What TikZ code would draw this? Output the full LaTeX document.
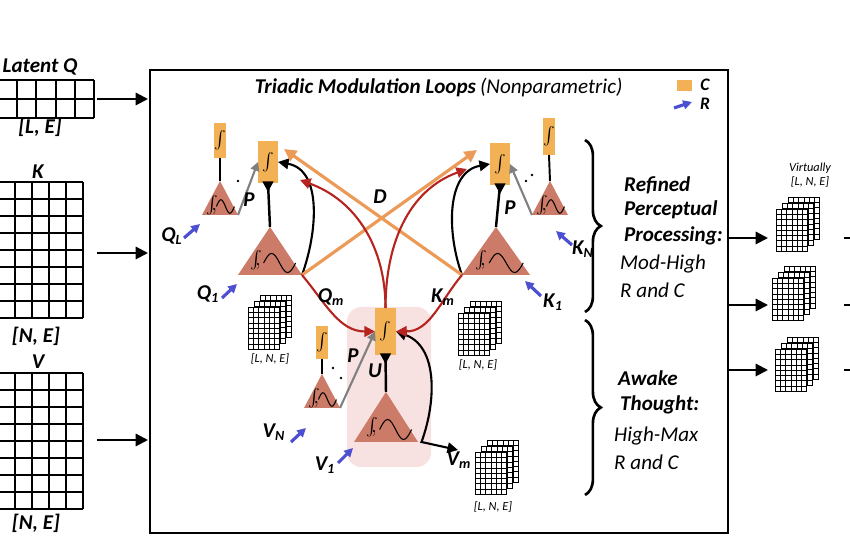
\documentclass[tikz,border=0pt]{standalone}
\usepackage{fontspec}
\setmainfont{Carlito}
\usetikzlibrary{arrows.meta,decorations.pathreplacing}
\definecolor{tri}{HTML}{CC7B68}
\definecolor{cbar}{HTML}{F2B155}
\definecolor{dorange}{HTML}{EC9A58}
\definecolor{dred}{HTML}{B5241E}
\definecolor{rblue}{HTML}{4B4FD0}
\definecolor{pinkbg}{HTML}{F8E1E1}
\tikzset{
  tri/.style={fill=tri},
  cbar/.style={fill=cbar},
  rarr/.style={-{Triangle[length=5pt,width=5pt]}, rblue, line width=1.8pt},
  darr/.style={-{Triangle[length=7pt,width=7pt]}, dorange, line width=1.8pt},
  redarr/.style={-{Triangle[length=6pt,width=6pt]}, dred, line width=1.2pt},
  barr/.style={-{Triangle[length=6pt,width=6pt]}, black, line width=1.2pt},
  garr/.style={-{Triangle[length=5pt,width=5pt]}, gray, line width=1.2pt},
  inarr/.style={-{Triangle[length=7pt,width=7pt]}, black, line width=1.2pt},
  lab/.style={font=\bfseries\itshape\large},
  small/.style={font=\itshape\scriptsize},
}
\newcommand\sub[1]{\textsubscript{\bfseries\itshape #1}}
% triangle: name, centre x, base y, half width, height
\newcommand\tri[5]{
  \path[tri] ({#2-#4},#3) coordinate (#1-l) -- (#2,{#3-#5}) coordinate (#1-t)
    -- ({#2+#4},#3) coordinate (#1-r) -- cycle;
  \node[font=\large] at ({#2-0.45*#4},{#3-0.3*#5}) {$\int\!\!,$};
  \draw[line width=0.6pt] ({#2-0.2*#4},{#3-0.25*#5}) sin ++({0.25*#4},{-0.2*#5})
    cos ++({0.25*#4},{0.2*#5}) sin ++({0.25*#4},{0.2*#5}) cos ++({0.25*#4},{-0.2*#5});
}
% orange bar: name, x, y, width, height
\newcommand\cbar[5]{
  \path[cbar] (#2,#3) rectangle ({#2+#4},{#3+#5});
  \coordinate (#1) at ({#2+0.5*#4},{#3+0.5*#5});
  \coordinate (#1-n) at ({#2+0.5*#4},#3);
  \coordinate (#1-s) at ({#2+0.5*#4},{#3+#5});
  \coordinate (#1-w) at (#2,{#3+0.5*#5});
  \coordinate (#1-e) at ({#2+#4},{#3+0.5*#5});
  \node[font=\large] at (#1) {$\int$};
}
% grid: x, y, cols, rows, cell, line width
\newcommand\mgrid[6]{
  \fill[white] (#1,#2) rectangle ({#1+#3*#5},{#2+#4*#5});
  \foreach \i in {0,...,#3} \draw[line width=#6] ({#1+\i*#5},#2) -- ({#1+\i*#5},{#2+#4*#5});
  \foreach \j in {0,...,#4} \draw[line width=#6] (#1,{#2+\j*#5}) -- ({#1+#3*#5},{#2+\j*#5});
}
% stack of three grids: x, y (front grid top left)
\newcommand\gstack[2]{
  \mgrid{#1+12}{#2-12}{6}{8}{5.3}{0.35pt}
  \mgrid{#1+6}{#2-6}{6}{8}{5.3}{0.35pt}
  \mgrid{#1}{#2}{6}{8}{5.3}{0.35pt}
}
\begin{document}
\begin{tikzpicture}[x=0.02cm, y=-0.02cm]
\useasboundingbox (0,0) rectangle (850,560);
% inputs
\mgrid{-2}{80}{5}{2}{19.2}{1.1pt}
\mgrid{-2}{182}{5}{8}{17}{1.1pt}
\mgrid{-2}{373}{5}{8}{17}{1.1pt}
\node[lab] at (40,67) {Latent Q};
\node[lab] at (40,127) {[L, E]};
\node[lab] at (38,172) {K};
\node[lab] at (36,336) {[N, E]};
\node[lab] at (38,362) {V};
\node[lab] at (36,523) {[N, E]};
\coordinate (q-out) at (97,99);
\coordinate (k-out) at (97,253);
\coordinate (v-out) at (97,440);
\coordinate (q-in) at (148,99);
\coordinate (k-in) at (148,253);
\coordinate (v-in) at (148,440);
\draw[inarr] (q-out) -- (q-in);
\draw[inarr] (k-out) -- (k-in);
\draw[inarr] (v-out) -- (v-in);
% frame
\draw[line width=1.1pt] (150,70) rectangle (728,533);
\node[font=\bfseries\itshape\large, anchor=east, inner xsep=1pt] at (478,88) {Triadic Modulation Loops};
\node[font=\itshape\large, anchor=west, inner xsep=1pt] at (478,88) {(Nonparametric)};
\fill[cbar] (677,80) rectangle (692,91);
\node[font=\bfseries\itshape, inner sep=1pt] at (705,85) {C};
\draw[rarr] (674,108) -- (692,102);
\node[font=\bfseries\itshape, inner sep=1pt] at (705,104) {R};
% background of the centre loop
\fill[pinkbg, rounded corners=8pt] (347,307) rectangle (431,467);
% left loop
\cbar{cl}{258}{141}{20}{42}
\cbar{cls}{214}{123}{12}{35}
\tri{tl}{270}{275}{32}{48}
\tri{tls}{220}{215}{18}{34}
\draw[line width=1.1pt] (cls-s) -- (tls-t);
\fill (238,181) circle (1.4) (247,191) circle (1.4);
% right loop
\cbar{cr}{490}{143}{20}{42}
\cbar{crs}{543}{118}{12}{37}
\tri{tr}{496}{275}{34}{48}
\tri{trs}{550}{215}{18}{34}
\draw[line width=1.1pt] (crs-s) -- (trs-t);
\fill (526,181) circle (1.4) (532,175) circle (1.4);
% centre loop
\cbar{cc}{375}{308}{21}{47}
\cbar{ccs}{316}{326}{12}{33}
\tri{tc}{386}{442}{32}{50}
\tri{tcs}{322}{408}{18}{34}
\draw[line width=1.1pt] (ccs-s) -- (tcs-t);
\fill (333,368) circle (1.4) (341,378) circle (1.4);
% bars down to triangles
\draw[line width=1.4pt] (cl-s) -- (tl-t);
\draw[line width=1.4pt] (cr-s) -- (tr-t);
\draw[line width=1.4pt] (cc-s) -- (tc-t);
\draw[barr, line width=1.4pt] (cl-s) -- ++(0,9);
\draw[barr, line width=1.4pt] (cr-s) -- ++(0,9);
\draw[barr, line width=1.4pt] (cc-s) -- ++(0,9);
% loops
\draw[barr] (tl-r) to[out=70, in=-10] (cl-e);
\draw[barr] (tr-l) to[out=110, in=190] (cr-w);
\draw[barr, {Triangle[length=6pt,width=6pt]}-{Triangle[length=6pt,width=6pt]}] (cc-e) to[out=-20, in=70] ([xshift=2]tc-r) -- (458,450) coordinate (vm);
\draw[garr] (tls-r) -- (cl-w);
\draw[garr] (trs-l) -- (cr-e);
\draw[garr] (tcs-r) -- (cc-w);
% D
\draw[darr] (tl-r) -- (477,150);
\draw[darr] (tr-l) -- (284,149);
% red modulation
\draw[redarr] (cc-n) to[out=90, in=-20] (300,180);
\draw[redarr] (cc-n) to[out=90, in=200] (467,169);
\draw[redarr] (tl-r) to[out=-50, in=180] (cc-w);
\draw[redarr] (tr-l) to[out=-130, in=0] (cc-e);
% R inputs
\draw[rarr] (184,238) -- (200,224);
\draw[rarr] (222,298) -- (237,284);
\draw[rarr] (572,245) -- (556,231);
\draw[rarr] (541,296) -- (525,281);
\draw[rarr] (291,442) -- (306,428);
\draw[rarr] (338,463) -- (353,448);
% labels
\node[lab] at (172,236) {Q\sub{L}};
\node[lab] at (208,294) {Q\sub{1}};
\node[lab] at (249,200) {P};
\node[lab] at (510,208) {P};
\node[lab] at (380,197) {D};
\node[lab] at (331,297) {Q\sub{m}};
\node[lab] at (443,297) {K\sub{m}};
\node[lab] at (583,249) {K\sub{N}};
\node[lab] at (553,302) {K\sub{1}};
\node[lab] at (353,356) {P};
\node[lab] at (375,371) {U};
\node[lab] at (274,432) {V\sub{N}};
\node[lab] at (325,465) {V\sub{1}};
\node[lab] at (459,460) {V\sub{m}};
% value tensors
\gstack{248}{307}
\node[small] at (270,359) {[L, N, E]};
\gstack{458}{313}
\node[small] at (478,365) {[L, N, E]};
\gstack{475}{452}
\node[small] at (493,507) {[L, N, E]};
% regimes
\draw[line width=1.5pt, decorate, decoration={brace, amplitude=9pt}] (585,140) -- (585,312);
\draw[line width=1.5pt, decorate, decoration={brace, amplitude=9pt}] (585,320) -- (585,495);
\node[lab, anchor=west] at (618,185) {Refined};
\node[lab, anchor=west] at (618,210) {Perceptual};
\node[lab, anchor=west] at (618,236) {Processing:};
\node[font=\itshape\large, anchor=west] at (614,264) {Mod-High};
\node[font=\itshape\large, anchor=west] at (614,290) {R and C};
\node[lab, anchor=west] at (612,378) {Awake};
\node[lab, anchor=west] at (614,405) {Thought:};
\node[font=\itshape\large, anchor=west] at (608,436) {High-Max};
\node[font=\itshape\large, anchor=west] at (608,462) {R and C};
% outputs
\node[small] at (810,168) {Virtually};
\node[small] at (810,182) {[L, N, E]};
\gstack{776}{209}
\gstack{772}{278}
\gstack{775}{349}
\coordinate (o1) at (728,238);
\coordinate (o2) at (728,305);
\coordinate (o3) at (728,370);
\draw[inarr] (o1) -- (768,238);
\draw[inarr] (o2) -- (768,305);
\draw[inarr] (o3) -- (768,370);
\draw[line width=1.2pt] (844,238) -- (850,238) (844,305) -- (850,305) (844,370) -- (850,370);
\end{tikzpicture}
\end{document}
